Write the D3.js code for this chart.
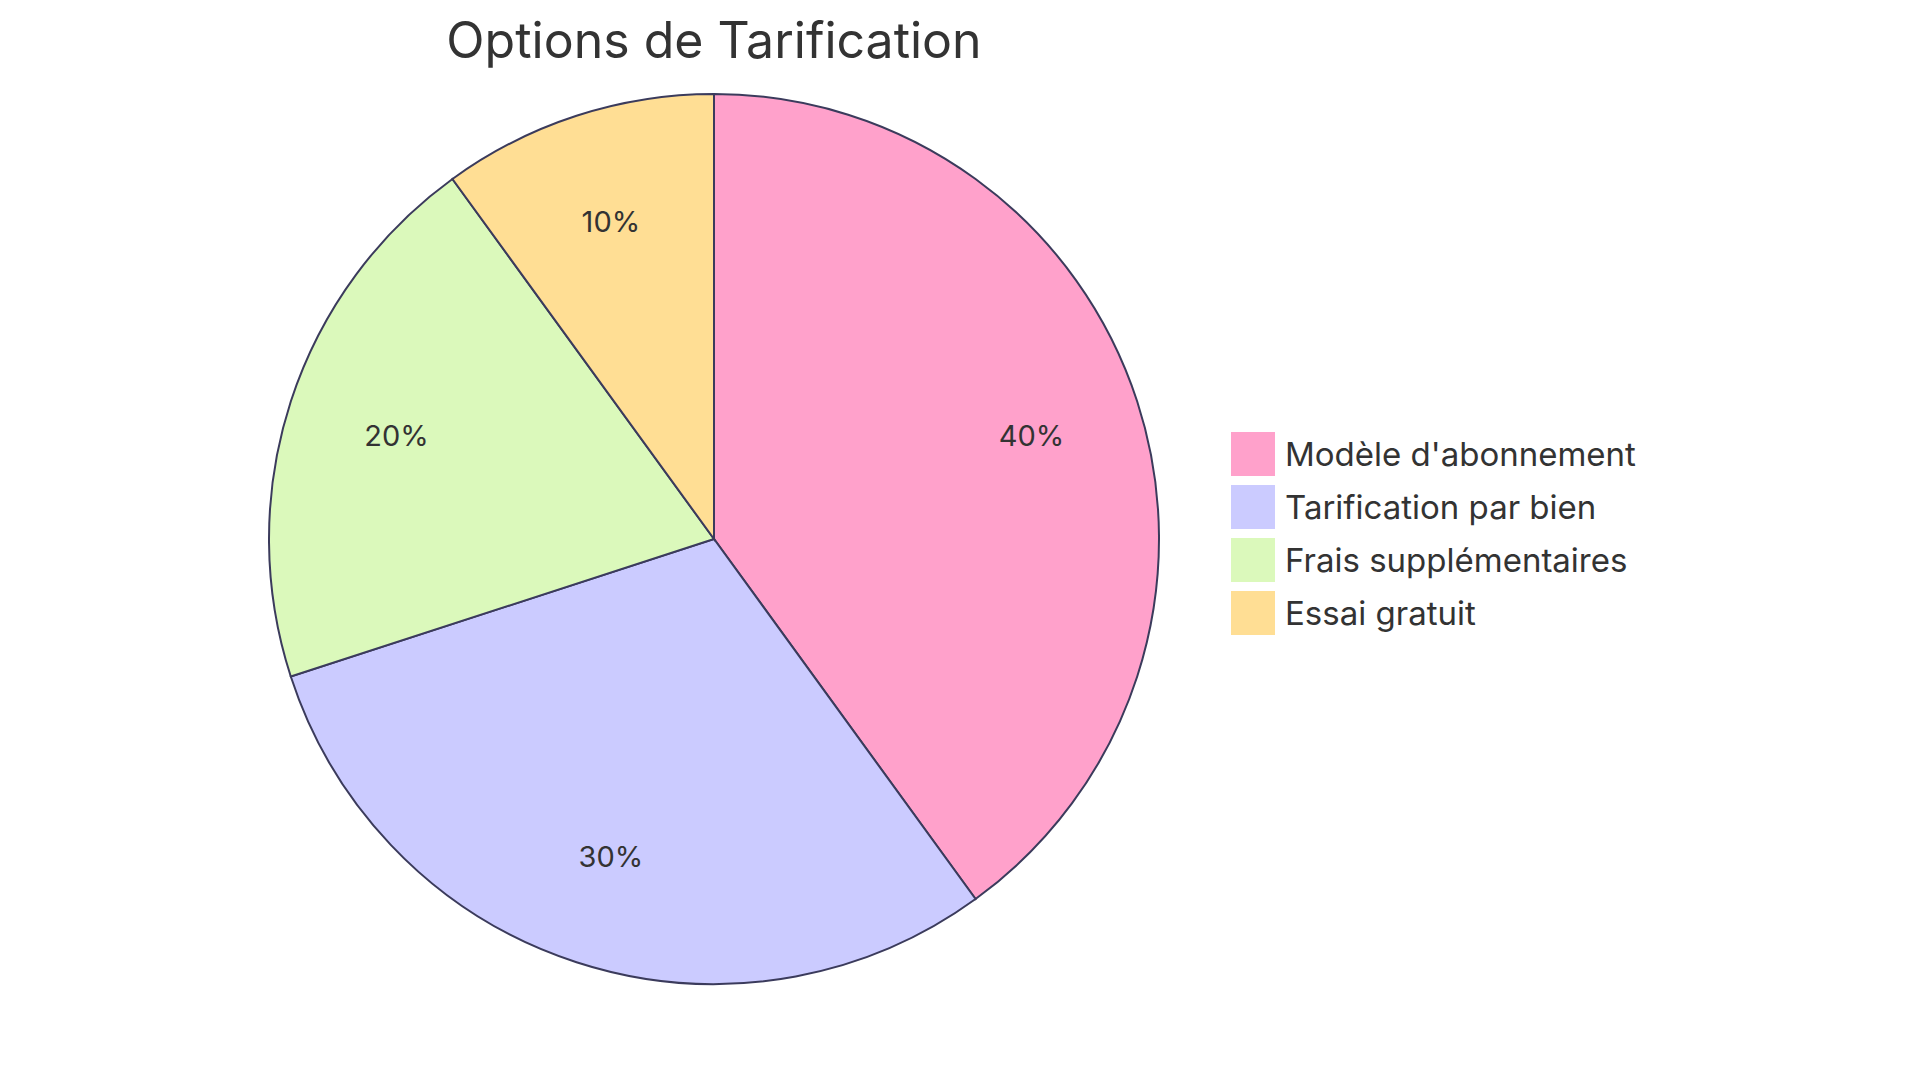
<!DOCTYPE html>
<html><head><meta charset="utf-8">
<script src="https://cdn.jsdelivr.net/npm/d3@7"></script>
<style>body{margin:0;background:#fff}text{font-family:Inter,"Open Sans",sans-serif}</style>
</head><body><svg id="c" width="1920" height="1083"></svg>
<script>
// Chart data
const categories = ["Modèle d'abonnement", "Tarification par bien", "Frais supplémentaires", "Essai gratuit"];
const values = [40, 30, 20, 10];
const colors = ["#ffa1cb", "#cbcbff", "#dbf9bb", "#ffde94"];

const svg = d3.select("#c");
const cx = 714, cy = 539, r = 445;

// Title
svg.append("text").attr("x", cx).attr("y", 58).attr("text-anchor", "middle")
  .attr("font-size", 50).attr("fill", "#333").text("Options de Tarification");

const pie = d3.pie().sort(null).value(d => d)(values);
const arc = d3.arc().innerRadius(0).outerRadius(r);
const labelArc = d3.arc().innerRadius(r * 0.75).outerRadius(r * 0.75);
const g = svg.append("g").attr("transform", `translate(${cx},${cy})`);

// Slices
g.selectAll("path").data(pie).enter().append("path")
  .attr("d", arc).attr("fill", (d, i) => colors[i])
  .attr("stroke", "#3b3b5c").attr("stroke-width", 2);

// Percent labels
g.selectAll("text").data(pie).enter().append("text")
  .attr("transform", d => `translate(${labelArc.centroid(d)})`)
  .attr("text-anchor", "middle").attr("dy", "0.35em")
  .attr("font-size", 29).attr("fill", "#333")
  .text(d => d.data + "%");

// Legend
const lg = svg.append("g").attr("transform", "translate(1231,432)");
const row = lg.selectAll("g").data(categories).enter().append("g")
  .attr("transform", (d, i) => `translate(0,${i * 53})`);
row.append("rect").attr("width", 44).attr("height", 44)
  .attr("fill", (d, i) => colors[i]);
row.append("text").attr("x", 54).attr("y", 22).attr("dy", "0.35em")
  .attr("font-size", 33).attr("fill", "#333").text(d => d);
</script></body></html>
